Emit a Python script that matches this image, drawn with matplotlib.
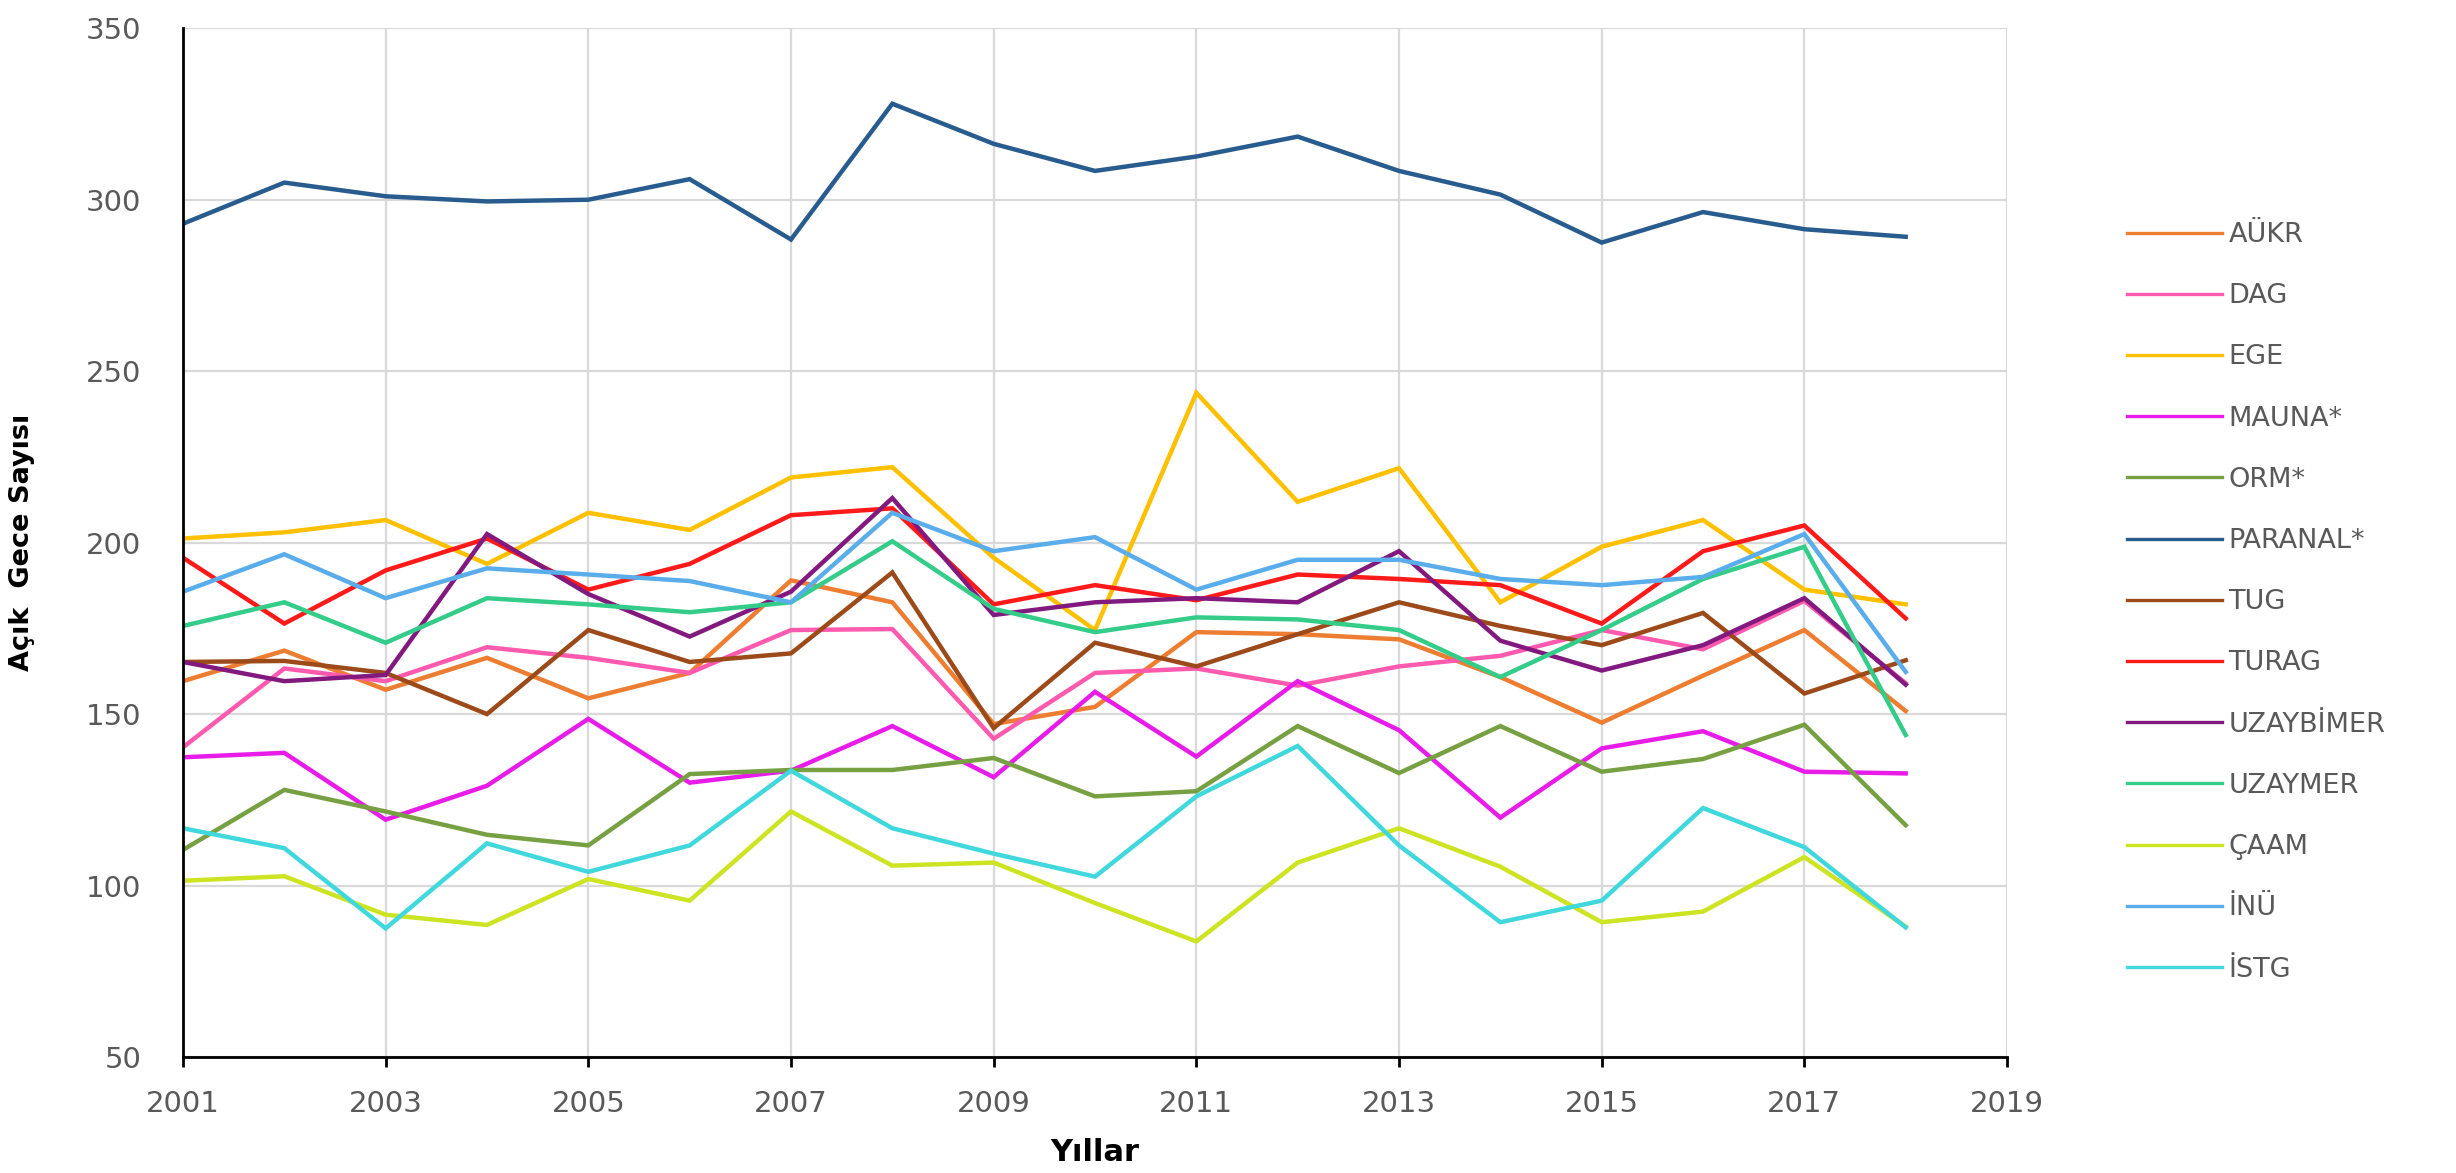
import matplotlib
matplotlib.use("Agg")
import matplotlib.pyplot as plt

years = list(range(2001, 2019))

series_names = ["AÜKR", "DAG", "EGE", "MAUNA*", "ORM*", "PARANAL*", "TUG", "TURAG",
                "UZAYBİMER", "UZAYMER", "ÇAAM", "İNÜ", "İSTG"]

aukr = [159.6, 168.5, 157.1, 166.4, 154.6, 162, 189, 182.6, 147.1, 152.1, 173.9, 173.3, 171.8, 160.8, 147.5, 161.2, 174.5, 150.9]
dag = [140.3, 163.3, 159.6, 169.5, 166.4, 162, 174.5, 174.8, 142.8, 162, 163.3, 158.3, 163.9, 167, 174.5, 168.9, 183, 159]
ege = [201.2, 203, 206.6, 193.8, 208.7, 203.7, 219, 222, 195.6, 174.5, 243.7, 211.9, 221.7, 182.6, 198.8, 206.6, 186.3, 182]
mauna = [137.4, 138.7, 119.2, 129.1, 148.6, 130, 133.5, 146.5, 131.6, 156.5, 137.6, 159.6, 145.3, 119.8, 140, 145, 133.2, 132.7]
orm = [110.4, 127.9, 121.6, 114.8, 111.7, 132.5, 133.7, 133.7, 137.2, 126, 127.5, 146.5, 132.8, 146.5, 133.2, 136.9, 146.9, 117.6]
paranal = [293, 305, 301, 299.5, 300, 306, 288.4, 328, 316.3, 308.4, 312.6, 318.4, 308.4, 301.5, 287.5, 296.4, 291.4, 289.2]
tug = [165.2, 165.5, 162, 150, 174.5, 165.2, 167.7, 191.3, 145.9, 170.8, 163.9, 173.3, 182.6, 175.7, 170.1, 179.5, 156, 165.7]
turag = [195.6, 176.4, 191.9, 201.2, 186.3, 193.8, 208, 210, 182, 187.6, 183.2, 190.7, 189.4, 187.6, 176.4, 197.5, 205, 177.9]
uzaybimer = [165.2, 159.6, 161.4, 202.5, 185, 172.6, 185.7, 213, 178.9, 182.6, 183.8, 182.6, 197.5, 171.4, 162.7, 170.1, 183.8, 158.6]
uzaymer = [175.7, 182.6, 170.8, 183.8, 182, 179.7, 182.6, 200.4, 180.7, 173.9, 178.2, 177.6, 174.5, 160.8, 174.5, 189.4, 198.8, 143.9]
caam = [101.4, 102.7, 91.5, 88.5, 101.9, 95.6, 121.6, 105.8, 106.7, 94.9, 83.7, 106.7, 116.7, 105.5, 89.3, 92.4, 108.3, 88]
inu = [185.7, 196.6, 183.8, 192.5, 190.7, 188.8, 182.6, 208.7, 197.5, 201.6, 186.3, 195, 195, 189.4, 187.6, 190, 202.5, 162.3]
istg = [116.7, 110.9, 87.5, 112.3, 104, 111.7, 133.5, 116.7, 109.3, 102.6, 126, 140.7, 111.7, 89.3, 95.6, 122.6, 111.2, 87.8]

series_values = [aukr, dag, ege, mauna, orm, paranal, tug, turag, uzaybimer, uzaymer, caam, inu, istg]

colors = ["#ED7D31", "#FF5AAE", "#FFC000", "#E81CE8", "#77A043", "#285C8F", "#9C4A1A",
          "#FF1A1A", "#82197F", "#33CC88", "#CCE421", "#5AADEB", "#40D8DC"]

x_ticks = list(range(2001, 2020, 2))
y_ticks = [50, 100, 150, 200, 250, 300, 350]

fig = plt.figure(figsize=(24.56, 11.73), dpi=100)
ax = fig.add_axes([0.0745, 0.0989, 0.7427, 0.877])

for name, vals, c in zip(series_names, series_values, colors):
    ax.plot(years, vals, color=c, linewidth=3.2, label=name, solid_joinstyle="miter")

ax.set_xlim(2001, 2019)
ax.set_ylim(50, 350)
ax.set_xticks(x_ticks)
ax.set_yticks(y_ticks)
ax.grid(True, color="#D9D9D9", linewidth=1.6)
ax.set_axisbelow(True)

for s in ["top", "right"]:
    ax.spines[s].set_visible(False)
for s in ["left", "bottom"]:
    ax.spines[s].set_color("black")
    ax.spines[s].set_linewidth(2.0)

ax.tick_params(axis="x", direction="out", length=7, width=2, color="black",
               labelsize=21, labelcolor="#595959", pad=17)
ax.tick_params(axis="y", length=0, labelsize=21, labelcolor="#595959", pad=30)

ax.set_xlabel("Yıllar", fontsize=22, fontweight="bold", color="black", labelpad=14)
ax.set_ylabel("Açık  Gece Sayısı", fontsize=19.5, fontweight="bold", color="black")
ax.yaxis.set_label_coords(-0.081, 0.5)

leg = fig.legend(loc="upper left", bbox_to_anchor=(2127 / 2456, 1 - 222 / 1173),
                 frameon=False, fontsize=19.5, handlelength=3.5, handletextpad=0.25,
                 labelspacing=1.3, borderpad=0, borderaxespad=0)
for t in leg.get_texts():
    t.set_color("#595959")
for l in leg.get_lines():
    l.set_linewidth(2.4)

fig.savefig("out.png", dpi=100)
